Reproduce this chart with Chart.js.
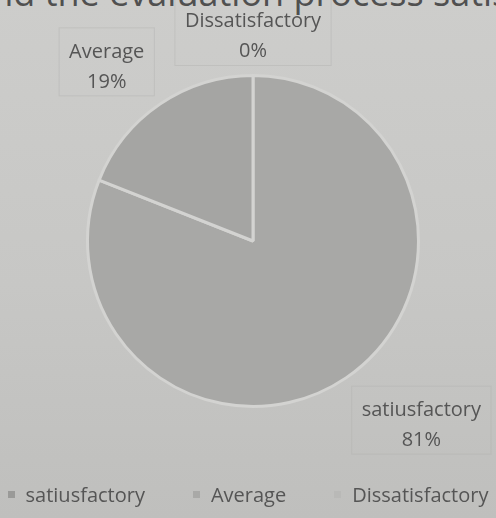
<!DOCTYPE html>
<html>
<head>
<meta charset="utf-8">
<script src="https://cdn.jsdelivr.net/npm/chart.js@4.4.1/dist/chart.umd.min.js"></script>
<style>
  html, body { margin: 0; padding: 0; }
  body {
    width: 496px; height: 518px; overflow: hidden; position: relative;
    background: linear-gradient(180deg, #cdcdcb 0%, #c7c7c5 55%, #bfbfbd 100%);
    font-family: 'Open Sans', sans-serif;
  }
  #title {
    position: absolute; left: -30px; top: -32px; white-space: nowrap;
    font-size: 36px; color: #505050;
  }
  #wrap { position: absolute; left: 0; top: 0; width: 496px; height: 518px; }
  #legend {
    position: absolute; left: 0; top: 481px; width: 496px;
    display: flex; justify-content: center; gap: 48px;
    font-size: 20px; color: #555; white-space: nowrap;
  }
  #legend span.box { display: inline-block; width: 7px; height: 7px; margin-right: 11px; vertical-align: middle; position: relative; top: -2px; }
</style>
</head>
<body>
<div id="title">find the evaluation process satisfactory?</div>
<div id="wrap"><canvas id="pie"></canvas></div>
<div id="legend"></div>
<script>
// data
const categories = ['satiusfactory', 'Average', 'Dissatisfactory'];
const percents = [81, 19, 0];
const sliceColors = ['#a8a8a6', '#a5a5a3', '#bcbcba'];
const legendColors = ['#9a9a98', '#a9a9a7', '#b9b9b7'];

const FONT = "'Open Sans', sans-serif";

// labels outside the slices, like the excel ones
const sliceLabels = {
  id: 'sliceLabels',
  afterDatasetsDraw(chart) {
    const ctx = chart.ctx;
    const meta = chart.getDatasetMeta(0);
    ctx.save();
    ctx.font = '20px ' + FONT;
    meta.data.forEach((arc, i) => {
      const p = arc.getProps(['x', 'y', 'startAngle', 'endAngle', 'outerRadius'], true);
      const mid = (p.startAngle + p.endAngle) / 2;
      const r = p.outerRadius + 10;
      const ax = p.x + Math.cos(mid) * r;
      const ay = p.y + Math.sin(mid) * r;
      const lines = [categories[i], percents[i] + '%'];
      const w = Math.max(...lines.map(t => ctx.measureText(t).width)) + 20;
      const lh = 30;
      const h = lh * 2 + 8;
      let left;
      if (Math.abs(Math.cos(mid)) < 0.2) left = ax - w / 2;
      else if (Math.cos(mid) > 0) left = ax;
      else left = ax - w;
      const top = Math.sin(mid) > 0 ? ay : ay - h;
      ctx.strokeStyle = 'rgba(175,175,173,0.4)';
      ctx.lineWidth = 1;
      ctx.strokeRect(left, top, w, h);
      ctx.fillStyle = '#555';
      ctx.textAlign = 'center';
      ctx.textBaseline = 'middle';
      lines.forEach((t, k) => ctx.fillText(t, left + w / 2, top + 9 + lh / 2 + k * lh));
    });
    ctx.restore();
  }
};

new Chart(document.getElementById('pie'), {
  type: 'pie',
  data: {
    labels: categories,
    datasets: [{
      data: percents,
      backgroundColor: sliceColors,
      borderColor: '#d3d3d1',
      borderWidth: 3
    }]
  },
  options: {
    responsive: true,
    maintainAspectRatio: false,
    animation: false,
    layout: { padding: { top: 74, left: 10, right: 0, bottom: 110 } },
    plugins: {
      tooltip: { enabled: false },
      legend: { display: false }
    }
  },
  plugins: [sliceLabels]
});

// legend row
const legend = document.getElementById('legend');
categories.forEach((c, i) => {
  const item = document.createElement('div');
  const box = document.createElement('span');
  box.className = 'box';
  box.style.background = legendColors[i];
  item.appendChild(box);
  item.appendChild(document.createTextNode(c));
  legend.appendChild(item);
});
</script>
</body>
</html>
